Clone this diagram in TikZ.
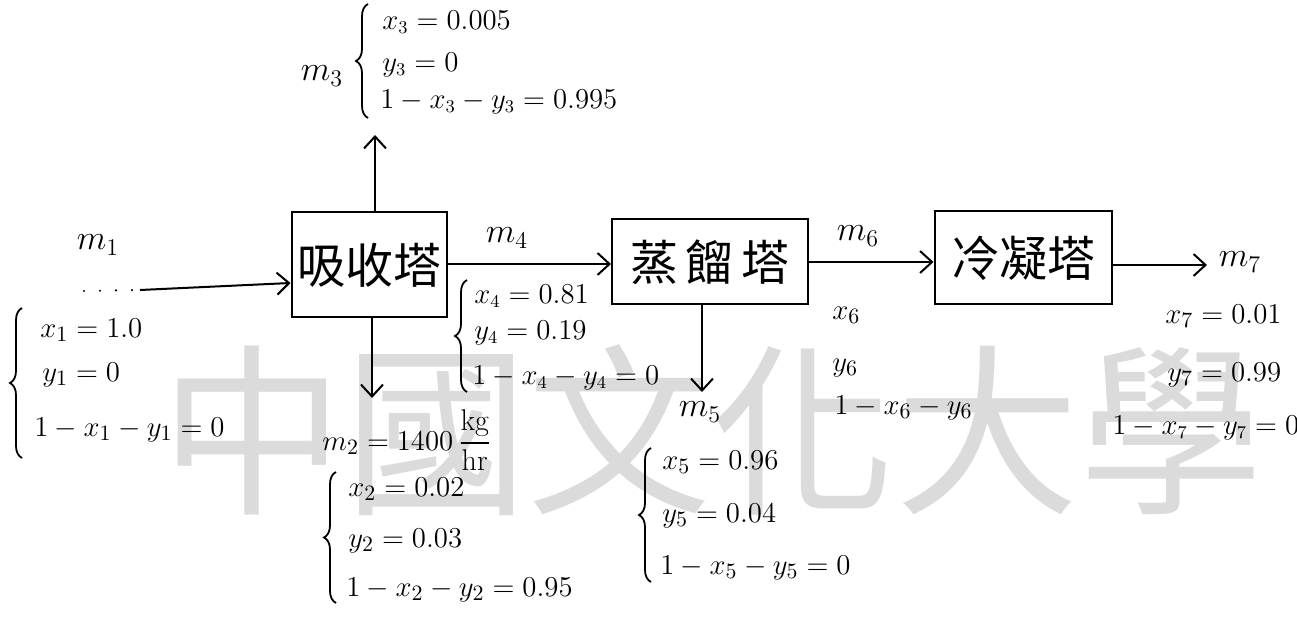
\documentclass[tikz,border=0pt]{standalone}
\usepackage{fontspec}
\usepackage{amsmath}
\newfontfamily\cjk{Noto Sans CJK TC}
\usetikzlibrary{arrows.meta,decorations.pathreplacing}
\tikzset{
  px/.style={x=0.5pt,y=-0.5pt},
  tower/.style={draw,line width=1pt,inner sep=0pt,font=\cjk\fontsize{24}{26}\selectfont},
  flow/.style={line width=1pt,-{Straight Barb[length=6pt,width=11pt]}},
  eq/.style={anchor=west,inner sep=0pt,font=\fontsize{15}{17}\selectfont},
  smalleq/.style={eq,font=\fontsize{13.5}{15}\selectfont},
  lbl/.style={inner sep=0pt,font=\fontsize{17}{19}\selectfont},
  br/.style={line width=0.9pt,decorate,decoration={brace,amplitude=6pt}},
  wm/.style={text=black!14,inner sep=0pt,font=\cjk\fontsize{92}{96}\selectfont}
}
\begin{document}
\begin{tikzpicture}[px]
\useasboundingbox (0,0) rectangle (1297,625);
% watermark
\node[wm] (wmark) at (712,430) {中國文化大學};
% towers
\node[tower,minimum width=77.5pt,minimum height=52.5pt] (b1) at (369,265) {吸收塔};
\node[tower,minimum width=98pt,minimum height=42.5pt] (b2) at (710,262) {蒸\,餾\,塔};
\node[tower,minimum width=88.5pt,minimum height=46.5pt] (b3) at (1023,258) {冷凝塔};
% m1 inlet
\coordinate (m1s) at (84,291);
\coordinate (m1d) at (140,290);
\draw[line width=1.2pt,line cap=round,dash pattern=on 0pt off 8pt] (m1s) -- (m1d);
\draw[flow] (m1d) -- (b1.west |- 0,283);
\node[lbl] (m1) at (98,245) {$m_1$};
\node[eq] (x1) at (40,330) {$x_1 = 1.0$};
\node[eq] (y1) at (42,375) {$y_1 = 0$};
\node[eq] (z1) at (34,430) {$1-x_1-y_1 = 0$};
\coordinate (br1a) at (22,458);
\coordinate (br1b) at (22,308);
\draw[br] (br1a) -- (br1b);
% m3 top outlet
\coordinate (m3e) at (375,135);
\draw[flow] (b1.north -| m3e) -- (m3e);
\node[lbl] (m3) at (322,76) {$m_3$};
\node[smalleq] (x3) at (382,22) {$x_3 = 0.005$};
\node[smalleq] (y3) at (382,65) {$y_3 = 0$};
\node[smalleq] (z3) at (380,102) {$1-x_3-y_3 = 0.995$};
\coordinate (br3a) at (368,118);
\coordinate (br3b) at (368,4);
\draw[br] (br3a) -- (br3b);
% m2 bottom outlet
\coordinate (m2e) at (372,398);
\draw[flow] (b1.south -| m2e) -- (m2e);
\node[eq] (m2) at (322,440) {$m_2 = 1400\,\dfrac{\mathrm{kg}}{\mathrm{hr}}$};
\node[eq] (x2) at (348,489) {$x_2 = 0.02$};
\node[eq] (y2) at (348,541) {$y_2 = 0.03$};
\node[eq] (z2) at (346,590) {$1-x_2-y_2 = 0.95$};
\coordinate (br2a) at (336,603);
\coordinate (br2b) at (336,472);
\draw[br] (br2a) -- (br2b);
% m4
\draw[flow] (b1.east |- 0,264) -- (b2.west |- 0,264);
\node[lbl] (m4) at (507,238) {$m_4$};
\node[smalleq] (x4) at (474,296) {$x_4 = 0.81$};
\node[smalleq] (y4) at (474,333) {$y_4 = 0.19$};
\node[smalleq] (z4) at (472,378) {$1-x_4-y_4 = 0$};
\coordinate (br4a) at (467,392);
\coordinate (br4b) at (467,280);
\draw[br] (br4a) -- (br4b);
% m5 bottom outlet
\coordinate (m5e) at (702,392);
\draw[flow] (b2.south -| m5e) -- (m5e);
\node[lbl] (m5) at (700,412) {$m_5$};
\node[eq] (x5) at (662,462) {$x_5 = 0.96$};
\node[eq] (y5) at (662,516) {$y_5 = 0.04$};
\node[eq] (z5) at (660,568) {$1-x_5-y_5 = 0$};
\coordinate (br5a) at (651,582);
\coordinate (br5b) at (651,448);
\draw[br] (br5a) -- (br5b);
% m6
\draw[flow] (b2.east |- 0,262) -- (b3.west |- 0,262);
\node[lbl] (m6) at (858,236) {$m_6$};
\node[eq] (x6) at (832,315) {$x_6$};
\node[eq] (y6) at (832,368) {$y_6$};
\node[eq] (z6) at (834,408) {$1-x_6-y_6$};
% m7
\coordinate (m7e) at (1207,265);
\draw[flow] (b3.east |- m7e) -- (m7e);
\node[lbl] (m7) at (1240,262) {$m_7$};
\node[eq] (x7) at (1165,316) {$x_7 = 0.01$};
\node[eq] (y7) at (1167,375) {$y_7 = 0.99$};
\node[smalleq] (z7) at (1112,428) {$1-x_7-y_7 = 0$};
\end{tikzpicture}
\end{document}
